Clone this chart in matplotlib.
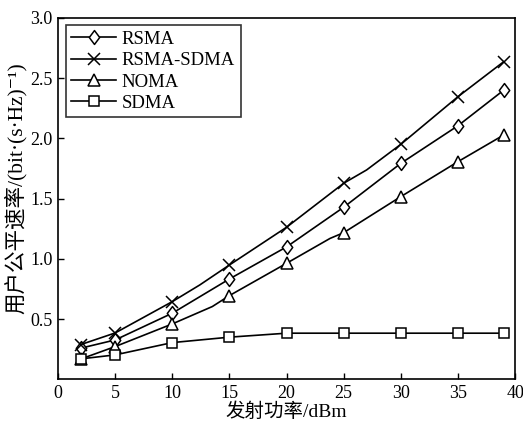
import numpy as np
import matplotlib
matplotlib.use('Agg')
import matplotlib.pyplot as plt
from matplotlib.path import Path

plt.rcParams['font.family'] = ['Liberation Serif', 'Noto Sans CJK SC', 'DejaVu Serif']

# transmit power (dBm); marker points and a few in-between points
x_rsma_sdma = [2, 5, 10, 12.4, 15, 20, 25, 27, 30, 35, 39]
rsma_sdma = [0.29, 0.386, 0.646, 0.784, 0.95, 1.263, 1.628, 1.738, 1.951, 2.346, 2.636]
mark_rsma_sdma = [0, 1, 2, 4, 5, 6, 8, 9, 10]

x_rsma = [2, 5, 10, 15, 20, 25, 30, 35, 39]
rsma = [0.26, 0.328, 0.55, 0.834, 1.10, 1.429, 1.793, 2.105, 2.40]

x_noma = [2, 5, 10, 13.5, 15, 20, 23.8, 25, 30, 35, 39]
noma = [0.17, 0.273, 0.461, 0.605, 0.696, 0.964, 1.17, 1.218, 1.517, 1.807, 2.028]
mark_noma = [0, 1, 2, 4, 5, 7, 8, 9, 10]

x_sdma = [2, 5, 10, 15, 20, 25, 30, 35, 39]
sdma = [0.171, 0.204, 0.306, 0.351, 0.384, 0.384, 0.384, 0.384, 0.384]

xticks = [0, 5, 10, 15, 20, 25, 30, 35, 40]
yticks = [0.5, 1.0, 1.5, 2.0, 2.5, 3.0]

# diamond a bit wider than 'd'
diamond = Path([(0, 1), (0.75, 0), (0, -1), (-0.75, 0), (0, 1)],
               [Path.MOVETO, Path.LINETO, Path.LINETO, Path.LINETO, Path.CLOSEPOLY])

fig = plt.figure(figsize=(5.23, 4.24), dpi=100)
ax = fig.add_axes([0.111, 0.105, 0.874, 0.853])

style = dict(color='black', lw=1.2, markerfacecolor='white',
             markeredgecolor='black', markeredgewidth=1.1)
ax.plot(x_rsma, rsma, marker=diamond, markersize=10, label='RSMA', **style)
ax.plot(x_rsma_sdma, rsma_sdma, marker='x', markersize=9,
        markevery=mark_rsma_sdma, label='RSMA-SDMA', **style)
ax.plot(x_noma, noma, marker='^', markersize=9, markevery=mark_noma,
        label='NOMA', **style)
ax.plot(x_sdma, sdma, marker='s', markersize=7, label='SDMA', **style)

ax.set_xlim(0, 40)
ax.set_ylim(0, 3.0)
ax.set_xticks(xticks)
ax.set_yticks(yticks)
ax.set_yticklabels(['%.1f' % v for v in yticks])
ax.tick_params(direction='in', length=4, width=1, labelsize=13, pad=4)
for s in ax.spines.values():
    s.set_linewidth(1.2)

ax.set_xlabel('发射功率/dBm', fontsize=14, labelpad=0)
ax.set_ylabel('用户公平速率/(bit·(s·Hz)⁻¹)', fontsize=15.5)
ax.yaxis.set_label_coords(-0.068, 0.53)

leg = ax.legend(loc='upper left', fontsize=13.5, frameon=True, fancybox=False,
                edgecolor='black', handlelength=2.4, handletextpad=0.3,
                labelspacing=0.22, borderpad=0.3, borderaxespad=0.4)
leg.get_frame().set_linewidth(1.2)

fig.savefig('out.png', dpi=100)
